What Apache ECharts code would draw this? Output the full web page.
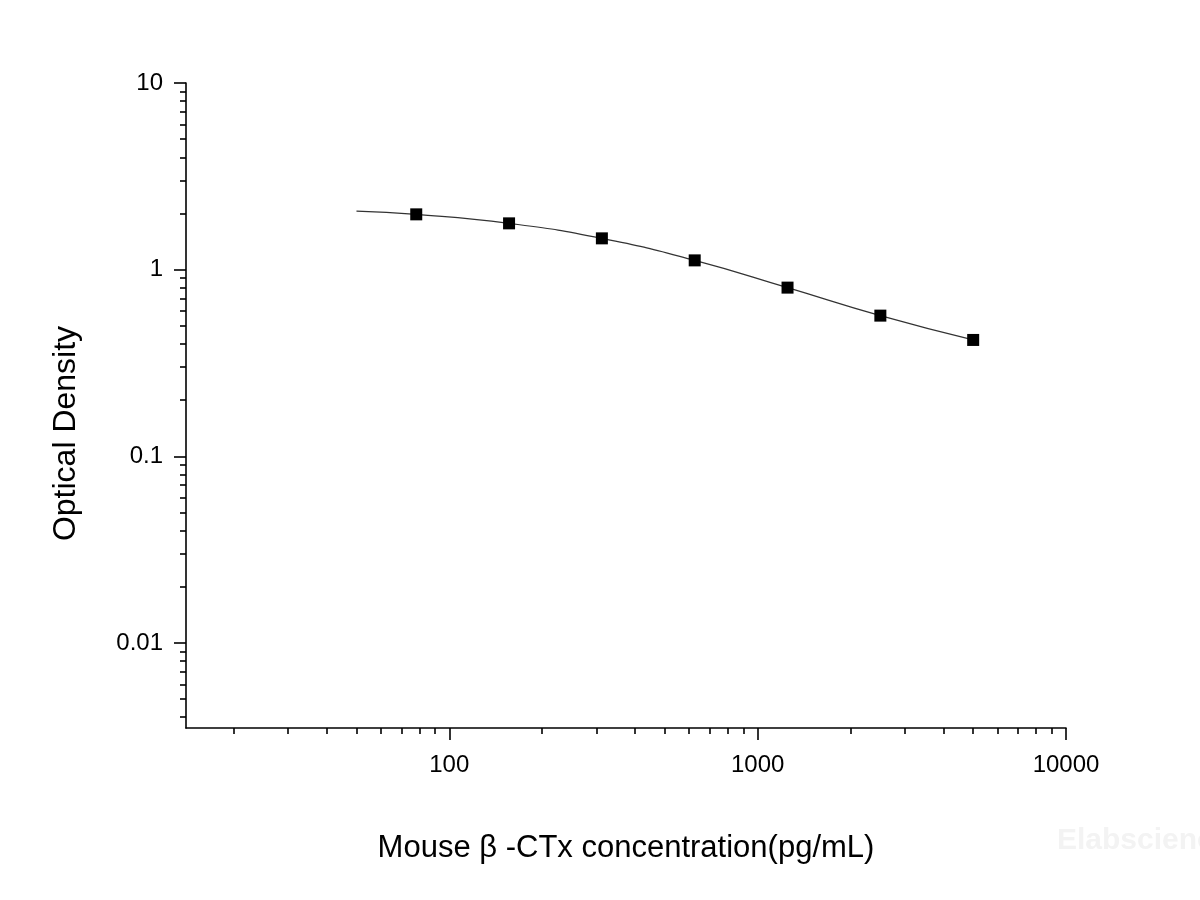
<!DOCTYPE html>
<html>
<head>
<meta charset="utf-8">
<script src="https://cdn.jsdelivr.net/npm/echarts@6/dist/echarts.min.js"></script>
<style>
html,body{margin:0;padding:0;background:#fff;}
#chart{width:1200px;height:900px;}
</style>
</head>
<body>
<div id="chart"></div>
<script>
// Standard points
const concentrations = [78.13, 156.25, 312.5, 625, 1250, 2500, 5000];
const odValues = [1.978, 1.770, 1.471, 1.121, 0.801, 0.567, 0.420];
// Fitted curve
const curveX = [50, 78.13, 156.25, 312.5, 625, 1250, 2500, 5000];
const curveY = [2.06, 1.978, 1.770, 1.471, 1.121, 0.801, 0.567, 0.420];
// Axis ticks
const xMajorTicks = [100, 1000, 10000];
const xMinorTicks = [20,30,40,50,60,70,80,90,200,300,400,500,600,700,800,900,2000,3000,4000,5000,6000,7000,8000,9000];
const yMajorTicks = [0.01, 0.1, 1, 10];
const yMinorTicks = [0.004,0.005,0.006,0.007,0.008,0.009,0.02,0.03,0.04,0.05,0.06,0.07,0.08,0.09,0.2,0.3,0.4,0.5,0.6,0.7,0.8,0.9,2,3,4,5,6,7,8,9];
const xTitle = 'Mouse \u03b2 -CTx concentration(pg/mL)';
const yTitle = 'Optical Density';

const FONT = "'Liberation Sans', Arial, sans-serif";
const chart = echarts.init(document.getElementById('chart'), null, {renderer: 'canvas'});

function fmt(v){ return String(v); }

const option = {
  backgroundColor: '#fff',
  animation: false,
  grid: {left: 186, right: 134, top: 83, bottom: 172, containLabel: false},
  xAxis: [{
    type: 'log', logBase: 10, min: 14, max: 10000, position: 'bottom',
    name: xTitle, nameLocation: 'middle', nameGap: 105,
    nameTextStyle: {fontFamily: FONT, fontSize: 31, color: '#000'},
    axisLine: {show: true, lineStyle: {color: '#000', width: 1.6}},
    axisTick: {show: true, inside: false, length: 12, lineStyle: {color: '#000', width: 1.6}, customValues: xMajorTicks},
    axisLabel: {show: true, margin: 25, fontFamily: FONT, fontSize: 24, color: '#000', customValues: xMajorTicks, formatter: fmt},
    splitLine: {show: false}, minorTick: {show: false}
  }, {
    type: 'log', logBase: 10, min: 14, max: 10000, position: 'bottom',
    axisLine: {show: false},
    axisTick: {show: true, inside: false, length: 6, lineStyle: {color: '#000', width: 1.6}, customValues: xMinorTicks},
    axisLabel: {show: false},
    splitLine: {show: false}
  }],
  yAxis: [{
    type: 'log', logBase: 10, min: 0.0035, max: 10, position: 'left',
    name: yTitle, nameLocation: 'middle', nameGap: 104, nameRotate: 90,
    nameTextStyle: {fontFamily: FONT, fontSize: 32, color: '#000', padding: [0, 56, 0, 0]},
    axisLine: {show: true, lineStyle: {color: '#000', width: 1.6}},
    axisTick: {show: true, inside: false, length: 12, lineStyle: {color: '#000', width: 1.6}, customValues: yMajorTicks},
    axisLabel: {show: true, margin: 23, fontFamily: FONT, fontSize: 24, color: '#000', customValues: yMajorTicks, formatter: fmt},
    splitLine: {show: false}
  }, {
    type: 'log', logBase: 10, min: 0.0035, max: 10, position: 'left',
    axisLine: {show: false},
    axisTick: {show: true, inside: false, length: 6, lineStyle: {color: '#000', width: 1.6}, customValues: yMinorTicks},
    axisLabel: {show: false},
    splitLine: {show: false}
  }],
  series: [{
    type: 'line', xAxisIndex: 0, yAxisIndex: 0,
    data: curveX.map((x, i) => [x, curveY[i]]),
    smooth: 0.5, showSymbol: false, symbol: 'none',
    lineStyle: {color: '#333', width: 1.2}, z: 2
  }, {
    type: 'scatter', xAxisIndex: 0, yAxisIndex: 0,
    data: concentrations.map((x, i) => [x, odValues[i]]),
    symbol: 'rect', symbolSize: 12,
    itemStyle: {color: '#000', opacity: 1}, z: 3
  }],
  graphic: [{
    type: 'text', left: 1057, top: 826,
    style: {text: 'Elabscience', fontFamily: FONT, fontSize: 30, fontWeight: 'bold', fill: '#f3f3f3'}
  }]
};
chart.setOption(option);
</script>
</body>
</html>
